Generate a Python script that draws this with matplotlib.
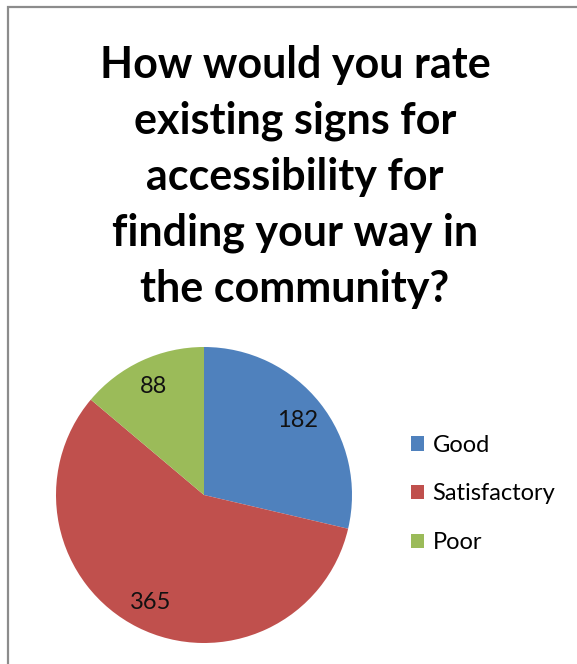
import matplotlib.pyplot as plt
from matplotlib.patches import Rectangle, Patch

categories = ['Good', 'Satisfactory', 'Poor']
counts = [182, 365, 88]
colors = ['#4F81BD', '#C0504D', '#9BBB59']
title = 'How would you rate\nexisting signs for\naccessibility for\nfinding your way in\nthe community?'

W, H = 577, 664
fig = plt.figure(figsize=(W / 100, H / 100), dpi=100)
plt.rcParams['font.family'] = ['Lato', 'DejaVu Sans']

# chart frame, clipped on the right and bottom
fig.patches.append(Rectangle((8 / W, -0.1), 1.2, (H - 7) / H + 0.1,
                             transform=fig.transFigure, fill=False,
                             edgecolor='#8c8c8c', linewidth=1.6))

fig.text(295 / W, 1 - 177 / H, title, ha='center', va='center',
         fontsize=31, fontweight='bold', linespacing=1.48)

# pie area: centre (204, 495), radius 148 px
ax = fig.add_axes([56 / W, (H - 643) / H, 296 / W, 296 / H])
total = sum(counts)
wedges, _, autotexts = ax.pie(counts, colors=colors, startangle=90, counterclock=False,
                              autopct=lambda p: '%d' % round(p * total / 100),
                              pctdistance=0.81, textprops={'fontsize': 17, 'color': '#111111'})
ax.set_xlim(-1, 1)
ax.set_ylim(-1, 1)

handles = [Patch(facecolor=c, label=l) for c, l in zip(colors, categories)]
fig.legend(handles=handles, loc='center left', bbox_to_anchor=(390 / W, 1 - 494 / H),
           frameon=False, fontsize=17, handlelength=0.55, handleheight=0.55,
           handletextpad=0.35, labelspacing=1.17)

fig.savefig('out.png', dpi=100)
